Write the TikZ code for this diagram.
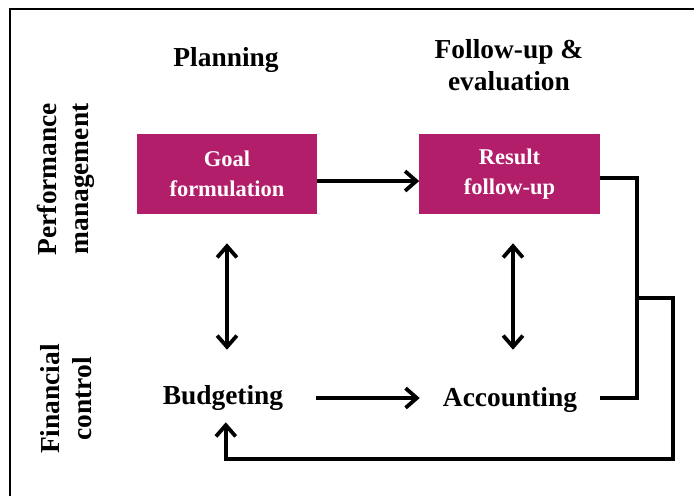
\documentclass[tikz,border=0pt]{standalone}
\usepackage{fontspec}
\setmainfont{Liberation Serif}
\usepackage{tikz}
\usetikzlibrary{arrows.meta, calc}
\definecolor{primary}{RGB}{179, 30, 107}

\tikzset{
  box/.style={fill=primary, text=white, font=\bfseries\fontsize{16}{21}\selectfont, align=center, minimum width=4.5cm, minimum height=2cm, inner sep=0pt},
  lbl/.style={font=\bfseries\fontsize{19.5}{23}\selectfont, align=center, minimum width=4.5cm, minimum height=1.2cm, inner sep=0pt},
  side/.style={font=\bfseries\fontsize{19.5}{23}\selectfont, align=center, rotate=90},
  flow/.style={line width=2.7pt, -{Straight Barb[length=8pt, width=14pt, line width=2.7pt]}},
  both/.style={line width=2.7pt, {Straight Barb[length=8pt, width=14pt, line width=2.7pt]}-{Straight Barb[length=8pt, width=14pt, line width=2.7pt]}},
  link/.style={line width=2.7pt, line join=miter}
}

\begin{document}
\begin{tikzpicture}[x=0.025cm, y=-0.025cm]
\useasboundingbox (0,0) rectangle (694,495);
\draw[line width=1.4pt] (10,9) rectangle (720,520);

\node[lbl] (plan) at (226,60) {Planning};
\node[lbl] (follow) at (509,65) {Follow-up \&\\evaluation};
\node[side] (perf) at (66,179) {Performance\\management};
\node[side] (fin) at (66,399) {Financial\\control};

\node[box] (goal) at (227,174) {Goal\\formulation};
\node[box] (result) at (509.5,174) {Result\\follow-up};
\node[lbl] (budget) at (223,398) {Budgeting};
\node[lbl] (account) at (510,400) {Accounting};

\draw[flow] ([yshift=-5pt]goal.east) -- ([yshift=-5pt]result.west);
\draw[flow] ([xshift=2pt]budget.east) -- (account.west |- budget.east);
\draw[both] ($(goal.south)+(0,29)$) -- ($(goal.south |- budget.north)+(0,-24)$);
\draw[both] ($(result.south)+(3.5,29)$) -- ($(result.south |- account.north)+(3.5,-26)$);

\draw[link] ([yshift=-3pt]result.east) -- ++(37,0) coordinate (top) |- ([yshift=1.5pt]account.east);
\coordinate (fb) at ($(top)!0.54!(top |- account.east)$);
\draw[flow] (fb) -- ++(36,0) -- ++(0,161) -| ([xshift=2pt]budget.south);
\end{tikzpicture}
\end{document}
